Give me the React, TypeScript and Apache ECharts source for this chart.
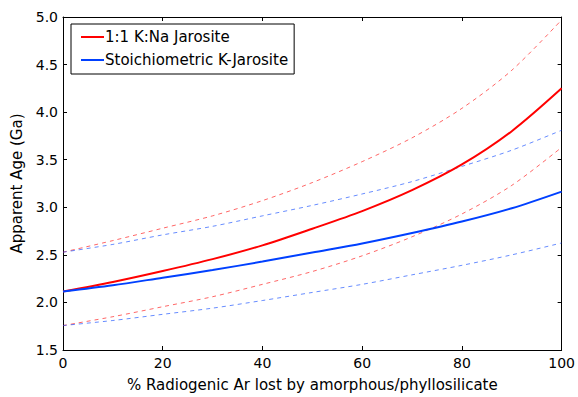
import React, { useEffect, useRef } from "react";
import * as echarts from "echarts";

const xValues = [0, 10, 20, 30, 40, 50, 60, 70, 80, 90, 100];
const redSolid = [2.115, 2.215, 2.33, 2.455, 2.6, 2.775, 2.96, 3.18, 3.45, 3.8, 4.25];
const blueSolid = [2.115, 2.18, 2.26, 2.34, 2.43, 2.525, 2.62, 2.73, 2.85, 2.99, 3.165];
const redUpper = [2.528, 2.65, 2.78, 2.91, 3.07, 3.26, 3.48, 3.73, 4.04, 4.44, 4.97];
const redLower = [1.757, 1.85, 1.955, 2.06, 2.19, 2.325, 2.49, 2.69, 2.93, 3.23, 3.63];
const blueUpper = [2.528, 2.61, 2.71, 2.8, 2.91, 3.02, 3.14, 3.27, 3.43, 3.6, 3.81];
const blueLower = [1.757, 1.81, 1.875, 1.94, 2.02, 2.105, 2.19, 2.29, 2.39, 2.5, 2.625];
const seriesNames = ["1:1 K:Na Jarosite", "Stoichiometric K-Jarosite"];
const xTitle = "% Radiogenic Ar lost by amorphous/phyllosilicate";
const yTitle = "Apparent Age (Ga)";

const RED = "#ff0000";
const BLUE = "#0040ff";
const FONT = "DejaVu Sans";

const pairs = (ys: number[]) => xValues.map((x, i) => [x, ys[i]]);

export default function App() {
  const ref = useRef<HTMLDivElement>(null);
  useEffect(() => {
    if (!ref.current) return;
    const chart = echarts.init(ref.current, undefined, { renderer: "svg" });
    const axisCommon = {
      type: "value" as const,
      axisLine: { show: true, onZero: false, lineStyle: { color: "#000", width: 1 } },
      axisTick: { show: true, inside: true, length: 4, lineStyle: { color: "#000" } },
      splitLine: { show: false },
    };
    const dashed = (data: number[], color: string) => ({
      type: "line" as const,
      data: pairs(data),
      smooth: 0.3,
      symbol: "none",
      silent: true,
      lineStyle: { color, width: 1, type: [4, 4] as any, opacity: 0.6 },
      z: 2,
    });
    chart.setOption({
      animation: false,
      backgroundColor: "#fff",
      textStyle: { fontFamily: FONT },
      grid: { left: 63, right: 14, top: 17, bottom: 44.5, containLabel: false },
      legend: {
        data: seriesNames,
        orient: "vertical",
        left: 71,
        top: 24,
        icon: "rect",
        padding: [5.5, 6, 6.5, 10],
        itemWidth: 23,
        itemHeight: 2,
        itemGap: 8,
        borderColor: "#000",
        borderWidth: 1,
        backgroundColor: "#fff",
        textStyle: { fontFamily: FONT, fontSize: 15, color: "#000", padding: [0, 0, 0, -4], lineHeight: 15 },
      },
      xAxis: [
        {
          ...axisCommon,
          position: "bottom",
          min: 0,
          max: 100,
          interval: 20,
          axisLabel: { color: "#000", fontSize: 14, fontFamily: FONT, margin: 6 },
          name: xTitle,
          nameLocation: "middle",
          nameGap: 27,
          nameTextStyle: { color: "#000", fontSize: 15, fontFamily: FONT },
        },
        {
          ...axisCommon,
          position: "top",
          min: 0,
          max: 100,
          interval: 20,
          axisLabel: { show: false },
        },
      ],
      yAxis: [
        {
          ...axisCommon,
          position: "left",
          min: 1.5,
          max: 5,
          interval: 0.5,
          axisLabel: {
            color: "#000",
            fontSize: 14,
            fontFamily: FONT,
            margin: 5,
            formatter: (v: number) => v.toFixed(1),
          },
          name: yTitle,
          nameLocation: "middle",
          nameGap: 38,
          nameTextStyle: { color: "#000", fontSize: 15, fontFamily: FONT },
        },
        {
          ...axisCommon,
          position: "right",
          min: 1.5,
          max: 5,
          interval: 0.5,
          axisLabel: { show: false },
        },
      ],
      series: [
        {
          name: seriesNames[0],
          type: "line",
          data: pairs(redSolid),
          smooth: 0.3,
          symbol: "none",
          lineStyle: { color: RED, width: 2 },
          itemStyle: { color: RED },
          z: 3,
        },
        {
          name: seriesNames[1],
          type: "line",
          data: pairs(blueSolid),
          smooth: 0.3,
          symbol: "none",
          lineStyle: { color: BLUE, width: 2 },
          itemStyle: { color: BLUE },
          z: 3,
        },
        dashed(redUpper, RED),
        dashed(redLower, RED),
        dashed(blueUpper, BLUE),
        dashed(blueLower, BLUE),
      ],
    });
    return () => chart.dispose();
  }, []);
  return <div ref={ref} style={{ width: 578, height: 397, position: "absolute", left: 0, top: 0 }} />;
}
